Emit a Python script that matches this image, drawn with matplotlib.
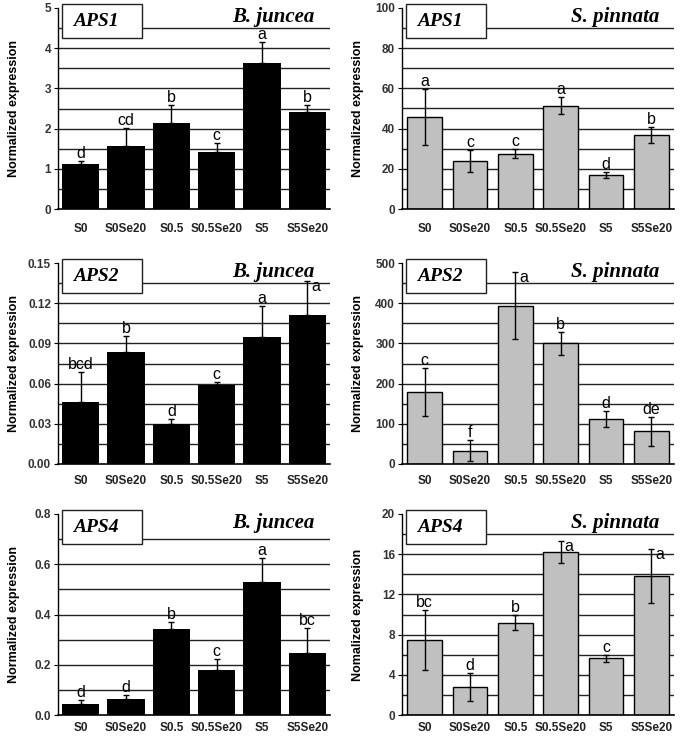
import numpy as np
import matplotlib
matplotlib.use('Agg')
import matplotlib.pyplot as plt
from matplotlib.patches import Rectangle

groups = ['S0', 'S0Se20', 'S0.5', 'S0.5Se20', 'S5', 'S5Se20']

# B. juncea (error bars drawn upward only)
bj_aps1 = [1.11, 1.56, 2.14, 1.41, 3.64, 2.42]
bj_aps1_err = [0.09, 0.45, 0.45, 0.23, 0.52, 0.17]
bj_aps1_sig = ['d', 'cd', 'b', 'c', 'a', 'b']

bj_aps2 = [0.046, 0.0835, 0.030, 0.0593, 0.0947, 0.1114]
bj_aps2_err = [0.0225, 0.0122, 0.0035, 0.0018, 0.0233, 0.0252]
bj_aps2_sig = ['bcd', 'b', 'd', 'c', 'a', 'a']

bj_aps4 = [0.045, 0.065, 0.344, 0.178, 0.531, 0.247]
bj_aps4_err = [0.015, 0.016, 0.025, 0.044, 0.095, 0.098]
bj_aps4_sig = ['d', 'd', 'b', 'c', 'a', 'bc']

# S. pinnata (symmetric error bars)
sp_aps1 = [45.8, 24.0, 27.5, 51.4, 17.1, 36.8]
sp_aps1_err = [13.8, 5.4, 2.2, 4.2, 1.5, 4.0]
sp_aps1_sig = ['a', 'c', 'c', 'a', 'd', 'b']

sp_aps2 = [180, 33, 394, 300, 113, 81]
sp_aps2_err = [60, 26, 83, 29, 20, 36]
sp_aps2_sig = ['c', 'f', 'a', 'b', 'd', 'de']

sp_aps4 = [7.46, 2.82, 9.19, 16.19, 5.64, 13.83]
sp_aps4_err = [3.0, 1.4, 0.78, 1.11, 0.35, 2.7]
sp_aps4_sig = ['bc', 'd', 'b', 'a', 'c', 'a']

# letters put beside the error bar instead of above it: (row, col, bar)
side_letters = [(1, 0, 5), (1, 1, 2), (2, 1, 3), (2, 1, 5)]

panels = [
    [dict(vals=bj_aps1, err=bj_aps1_err, sig=bj_aps1_sig, gene='APS1', ymax=5, step=1, fmt='%d'),
     dict(vals=sp_aps1, err=sp_aps1_err, sig=sp_aps1_sig, gene='APS1', ymax=100, step=20, fmt='%d')],
    [dict(vals=bj_aps2, err=bj_aps2_err, sig=bj_aps2_sig, gene='APS2', ymax=0.15, step=0.03, fmt='%.2f'),
     dict(vals=sp_aps2, err=sp_aps2_err, sig=sp_aps2_sig, gene='APS2', ymax=500, step=100, fmt='%d')],
    [dict(vals=bj_aps4, err=bj_aps4_err, sig=bj_aps4_sig, gene='APS4', ymax=0.8, step=0.2, fmt='%.1f'),
     dict(vals=sp_aps4, err=sp_aps4_err, sig=sp_aps4_sig, gene='APS4', ymax=20, step=4, fmt='%d')],
]
species = ['B. juncea', 'S. pinnata']
ylabels = [['Normalized expression'] * 2, ['Normalized expression'] * 2,
           ['Normalized expression', 'Nomalized expression']]

sans = ['Liberation Sans', 'DejaVu Sans']
serif = ['Liberation Serif', 'DejaVu Serif']

fig = plt.figure(figsize=(6.8, 7.37), dpi=100)
W, H = 680.0, 737.0
lefts = [58, 402]
tops = [8, 263, 514]
xpads = [10, 8, 5]
aw, ah = 272, 201

x = np.arange(len(groups))
for r in range(3):
    for c in range(2):
        p = panels[r][c]
        ax = fig.add_axes([lefts[c] / W, (H - tops[r] - ah) / H, aw / W, ah / H])
        vals = np.array(p['vals'], dtype=float)
        err = np.array(p['err'], dtype=float)
        ymax = p['ymax']
        half = p['step'] / 2.0

        for gy in np.arange(half, ymax - half / 2, half):
            ax.axhline(gy, color='#222222', lw=1.0, zorder=0)

        if c == 0:
            ax.bar(x, vals, width=0.82, color='black', zorder=2)
            ax.errorbar(x, vals, yerr=[np.zeros_like(err), err], fmt='none',
                        ecolor='black', elinewidth=1.0, capsize=2, capthick=1.0, zorder=3)
        else:
            ax.bar(x, vals, width=0.77, color='#c0c0c0', edgecolor='black', linewidth=1.0, zorder=2)
            ax.errorbar(x, vals, yerr=err, fmt='none', ecolor='black',
                        elinewidth=1.0, capsize=2.5, capthick=1.0, zorder=3)

        tops_err = vals + err
        for i, s in enumerate(p['sig']):
            if (r, c, i) in side_letters:
                ax.annotate(s, (i, tops_err[i]), xytext=(3, -4), textcoords='offset points',
                            ha='left', va='center', fontsize=11.5, family=sans, zorder=4)
            else:
                ax.annotate(s, (i, tops_err[i]), xytext=(0, 0), textcoords='offset points',
                            ha='center', va='bottom', fontsize=11.5, family=sans, zorder=4)

        ax.set_xlim(-0.5, 5.5)
        ax.set_ylim(0, ymax)
        ticks = np.arange(0, ymax + p['step'] / 2, p['step'])
        ax.set_yticks(ticks)
        ax.set_yticklabels([p['fmt'] % t for t in ticks], fontsize=8.5, fontweight='bold',
                           family=sans, color='#333333')
        ax.set_xticks(x)
        ax.set_xticklabels(groups, fontsize=8.5, fontweight='bold', family=sans, color='#222222')
        ax.tick_params(axis='x', length=0, pad=xpads[r])
        ax.tick_params(axis='y', length=3, width=0.8, pad=2)
        for side in ['top', 'right']:
            ax.spines[side].set_visible(False)
        ax.spines['left'].set_linewidth(1.0)
        ax.spines['bottom'].set_linewidth(1.2)

        ax.set_ylabel(ylabels[r][c], fontsize=9, fontweight='bold', family=sans)
        ax.yaxis.set_label_coords(-0.14, 0.5)

        box = Rectangle((0.015, 0.85), 0.295, 0.17, transform=ax.transAxes, facecolor='white',
                        edgecolor='#222222', lw=1.0, zorder=5, clip_on=False)
        ax.add_patch(box)
        ax.text(0.055, 0.935, p['gene'], transform=ax.transAxes, fontsize=14,
                fontweight='bold', style='italic', family=serif, va='center', ha='left', zorder=6)
        ax.text(0.945, 0.955, species[c], transform=ax.transAxes, fontsize=15,
                fontweight='bold', style='italic', family=serif, va='center', ha='right', zorder=6)

fig.savefig('out.png', dpi=100)
